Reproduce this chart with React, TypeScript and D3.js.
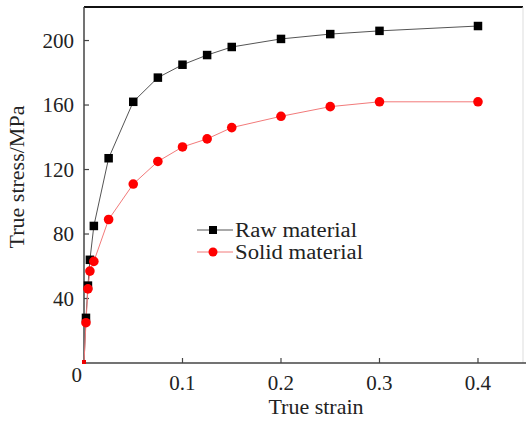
import * as d3 from "d3";

const strainRaw = [0, 0.002, 0.004, 0.006, 0.01, 0.025, 0.05, 0.075, 0.1, 0.125, 0.15, 0.2, 0.25, 0.3, 0.4];
const stressRaw = [0, 28, 48, 64, 85, 127, 162, 177, 185, 191, 196, 201, 204, 206, 209];

const strainSolid = [0, 0.002, 0.004, 0.006, 0.01, 0.025, 0.05, 0.075, 0.1, 0.125, 0.15, 0.2, 0.25, 0.3, 0.4];
const stressSolid = [0, 25, 46, 57, 63, 89, 111, 125, 134, 139, 146, 153, 159, 162, 162];

const xTicks = [0.1, 0.2, 0.3, 0.4];
const yTicks = [40, 80, 120, 160, 200];

const font = "Liberation Serif, Times New Roman, serif";

export default function App() {
  const width = 526;
  const height = 421;
  const left = 84;
  const right = 523;
  const top = 7;
  const bottom = 363;

  const x = d3.scaleLinear().domain([0, 0.4457]).range([left, right]);
  const y = d3.scaleLinear().domain([0, 220.8]).range([bottom, top]);

  const raw = strainRaw.map((s, i) => [s, stressRaw[i]] as [number, number]);
  const solid = strainSolid.map((s, i) => [s, stressSolid[i]] as [number, number]);

  const line = d3
    .line<[number, number]>()
    .x((d) => x(d[0]))
    .y((d) => y(d[1]));

  return (
    <svg
      width={width}
      height={height}
      style={{ position: "absolute", left: 0, top: 0, background: "#fff" }}
    >
      {/* frame */}
      <line x1={left} x2={right} y1={top} y2={top} stroke="#111" strokeWidth={2} />
      <line x1={right} x2={right} y1={top} y2={bottom} stroke="#ddd" strokeWidth={1} />
      <line x1={left} x2={left} y1={top} y2={bottom} stroke="#444" strokeWidth={1.5} />
      <line x1={left} x2={width} y1={bottom} y2={bottom} stroke="#444" strokeWidth={1.5} />

      {/* ticks */}
      {xTicks.map((t) => (
        <g key={"x" + t}>
          <line x1={x(t)} x2={x(t)} y1={bottom} y2={bottom - 5} stroke="#444" strokeWidth={1.2} />
          <text x={x(t)} y={bottom + 27} textAnchor="middle" fontFamily={font} fontSize={21} fill="#222">
            {t}
          </text>
        </g>
      ))}
      {yTicks.map((t) => (
        <g key={"y" + t}>
          <line x1={left} x2={left + 5} y1={y(t)} y2={y(t)} stroke="#444" strokeWidth={1.2} />
          <text x={left - 10} y={y(t) + 7} textAnchor="end" fontFamily={font} fontSize={21} fill="#222">
            {t}
          </text>
        </g>
      ))}
      <text x={left - 2} y={bottom + 19} textAnchor="end" fontFamily={font} fontSize={21} fill="#222">
        0
      </text>

      {/* axis titles */}
      <text x={316} y={414} textAnchor="middle" fontFamily={font} fontSize={22} fill="#222">
        True strain
      </text>
      <text
        transform="translate(24, 177) rotate(-90)"
        textAnchor="middle"
        fontFamily={font}
        fontSize={22}
        fill="#222"
      >
        True stress/MPa
      </text>

      {/* series */}
      <path d={line(raw) ?? ""} fill="none" stroke="#555" strokeWidth={1} />
      <path d={line(solid) ?? ""} fill="none" stroke="#f27a7a" strokeWidth={1} />
      {raw.slice(1).map((d, i) => (
        <rect key={"r" + i} x={x(d[0]) - 4.25} y={y(d[1]) - 4.25} width={8.5} height={8.5} fill="#000" />
      ))}
      {solid.slice(1).map((d, i) => (
        <circle key={"s" + i} cx={x(d[0])} cy={y(d[1])} r={4.8} fill="#f00" />
      ))}
      <rect x={x(0) - 2} y={y(0) - 3} width={4} height={4} fill="#e00" />

      {/* legend */}
      <line x1={197} x2={233} y1={230} y2={230} stroke="#555" strokeWidth={1} />
      <rect x={213 - 4} y={230 - 4} width={8} height={8} fill="#000" />
      <text
        x={235}
        y={236.5}
        fontFamily={font}
        fontSize={20}
        fill="#222"
        textLength={122}
        lengthAdjust="spacingAndGlyphs"
      >
        Raw material
      </text>
      <line x1={197} x2={233} y1={252} y2={252} stroke="#f27a7a" strokeWidth={1} />
      <circle cx={213} cy={252} r={4.5} fill="#f00" />
      <text
        x={235}
        y={259}
        fontFamily={font}
        fontSize={20}
        fill="#222"
        textLength={128}
        lengthAdjust="spacingAndGlyphs"
      >
        Solid material
      </text>
    </svg>
  );
}
